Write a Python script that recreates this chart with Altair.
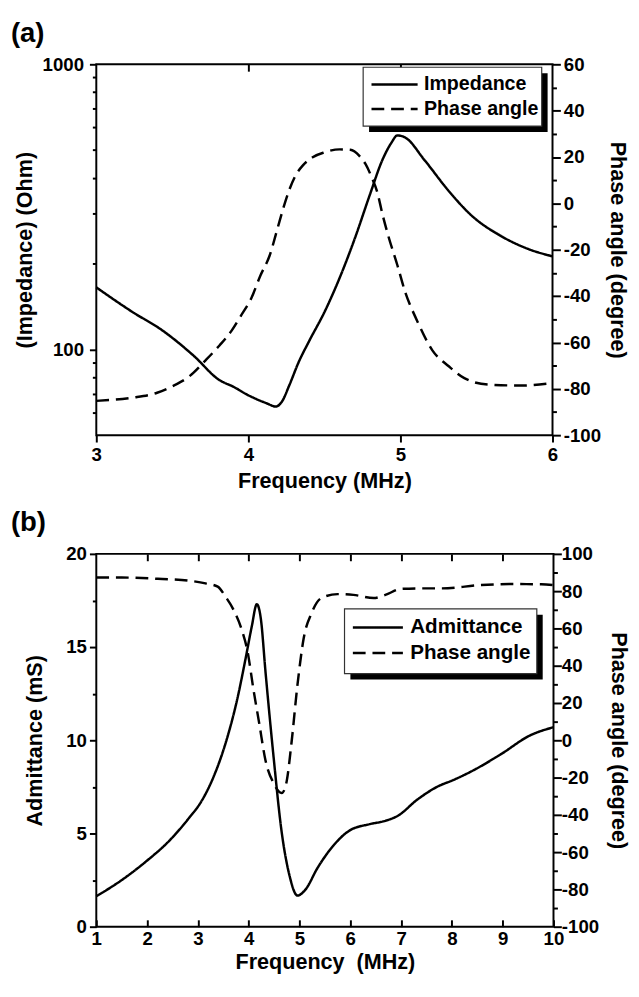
import altair as alt
import pandas as pd

FONT = "Liberation Sans"

# ---------------- panel (a): impedance / phase vs frequency ----------------
imp_freq = [3.0, 3.24, 3.43, 3.64, 3.81, 3.9, 4.0, 4.12, 4.18, 4.22, 4.27, 4.33,
            4.4, 4.5, 4.6, 4.7, 4.8, 4.88, 4.94, 4.98, 5.03, 5.16, 5.32, 5.47, 5.66,
            5.84, 6.0]
imp_ohm = [165, 135, 117, 95, 78, 74, 69, 64.7, 63, 65.5, 75, 90,
           107, 135, 178, 245, 350, 460, 530, 563, 554, 460, 358, 294, 250,
           225, 212]

pha_freq = [3.0, 3.24, 3.4, 3.5, 3.61, 3.72, 3.81, 3.89, 3.95, 4.02, 4.08, 4.14,
            4.19, 4.23, 4.27, 4.31, 4.36, 4.42, 4.5, 4.6, 4.67, 4.73, 4.77, 4.81, 4.85,
            4.88, 4.92, 4.98, 5.03, 5.11, 5.21, 5.32, 5.42, 5.58, 5.79, 6.0]
pha_deg = [-85.2, -83.8, -81.7, -78.9, -74.7, -67.6, -61.3, -54.9, -48.6, -40.8, -31, -22.5,
           -11.2, -2, 6, 12, 16.5, 19.8, 22, 23.3, 23.1, 20.5, 17, 11.4, 4.3,
           -4.2, -14, -26.7, -38, -50.7, -63.4, -70.4, -75.4, -78.2, -78.6, -77.5]

# ---------------- panel (b): admittance / phase vs frequency ----------------
adm_freq = [1.0, 1.5, 1.97, 2.44, 2.83, 3.07, 3.31, 3.54, 3.78, 3.94, 4.06, 4.16,
            4.24, 4.33, 4.49, 4.65, 4.8, 4.96, 5.12, 5.35, 5.67, 5.98, 6.38, 6.69,
            6.93, 7.32, 7.72, 8.03, 8.43, 8.98, 9.53, 10.0]
adm_ms = [1.63, 2.5, 3.48, 4.62, 5.85, 6.73, 8.05, 9.8, 12.27, 14.4, 16.1, 17.3,
          16.5, 13.7, 9.1, 5.06, 2.78, 1.67, 2.0, 3.13, 4.36, 5.15, 5.5, 5.68,
          5.94, 6.82, 7.52, 7.87, 8.4, 9.28, 10.25, 10.7]

phb_freq = [1.0, 1.5, 2.3, 2.83, 3.15, 3.39, 3.54, 3.7, 3.86, 3.98, 4.09, 4.21,
            4.33, 4.49, 4.65, 4.74, 4.84, 4.96, 5.08, 5.24, 5.43, 5.75, 6.06, 6.46,
            6.69, 7.0, 7.4, 7.8, 8.58, 9.13, 9.76, 10.0]
phb_deg = [87.3, 87.3, 86.5, 85.6, 84.2, 82.4, 77.2, 70.1, 59.6, 47.3, 27.9, 8.6,
           -10.7, -23, -28.3, -23, -2, 29.7, 54.3, 68.4, 76.3, 78.4, 78, 76.3,
           78, 81.2, 81.5, 81.5, 83.3, 83.8, 83.7, 83.3]

series_a = ["Impedance", "Phase angle"]
series_b = ["Admittance", "Phase angle"]

# ---------------- tick values / labels ----------------
xa_ticks = [3, 4, 5, 6]
xa_top_ticks = [4, 5]
imp_ticks = [60, 70, 80, 90, 100, 200, 300, 400, 500, 600, 700, 800, 900, 1000]
imp_labels = [100, 1000]
pha_ticks = list(range(-100, 61, 10))
xb_ticks = list(range(1, 11))
xb_inner_ticks = list(range(2, 10))
adm_ticks = [0, 2.5, 5, 7.5, 10, 12.5, 15, 17.5, 20]
phb_ticks = list(range(-100, 101, 10))

# ---------------- layout constants ----------------
W_A, H_A = 465, 378
W_B, H_B = 466, 380
DASH = [13, 7]
SOLID = [1, 0]
SHADOW = 6
LEG_A = dict(x=272, y=3, w=182, h=60, sym=47, font=20, row=25, gap=5, padx=7, pady=5)
LEG_B = dict(x=253, y=56, w=196, h=66, sym=51, font=21, row=26, gap=6, padx=7, pady=6)
TICK = dict(ticks=True, tickColor="black", tickWidth=2, tickOpacity=1)


def cond(test, major, minor):
    return {"condition": {"test": test, "value": major}, "value": minor}


def legend(cfg):
    return alt.Legend(
        orient="none", legendX=cfg["x"] + cfg["padx"], legendY=cfg["y"] + cfg["pady"],
        title=None, symbolType="stroke", symbolSize=cfg["sym"] ** 2, symbolStrokeWidth=2.5,
        symbolStrokeColor="black", labelFont=FONT, labelFontSize=cfg["font"],
        labelFontWeight="bold", labelColor="black", labelOffset=cfg["gap"],
        padding=0, clipHeight=cfg["row"], rowPadding=0,
    )


def box_layers(cfg):
    one = pd.DataFrame({"part": ["legend box"]})
    shadow = alt.Chart(one).mark_rect(color="black").encode(
        x=alt.value(cfg["x"] + SHADOW), x2=alt.value(cfg["x"] + cfg["w"] + SHADOW),
        y=alt.value(cfg["y"] + SHADOW), y2=alt.value(cfg["y"] + cfg["h"] + SHADOW),
    )
    frame = alt.Chart(one).mark_rect(fill="white", stroke="#333333", strokeWidth=1.2).encode(
        x=alt.value(cfg["x"]), x2=alt.value(cfg["x"] + cfg["w"]),
        y=alt.value(cfg["y"]), y2=alt.value(cfg["y"] + cfg["h"]),
    )
    return [shadow, frame]


def panel(df1, df2, xdom, xticks, xtop, xinward, y1, y2, series, leg, title, w, h,
          xtitle, lab_pad, title_pad):
    dash = alt.StrokeDash("series:N", scale=alt.Scale(domain=series, range=[SOLID, DASH]),
                          legend=legend(leg))
    xscale = alt.Scale(domain=xdom, nice=False, zero=False)
    bottom = alt.Axis(orient="bottom", values=xticks, format="d", title=xtitle,
                      tickSize=7, labelPadding=lab_pad, titlePadding=title_pad,
                      labelFlush=False, labelOverlap=False, offset=-7 if xinward else 0, **TICK)
    top = alt.Axis(orient="top", values=xtop, labels=False, title=None,
                   tickSize=7, offset=-7, **TICK)
    l1 = alt.Chart(df1).mark_line(color="black", strokeWidth=2.5, interpolate="monotone").encode(
        x=alt.X("freq:Q", scale=xscale, axis=bottom),
        y=y1, strokeDash=dash)
    l2 = alt.Chart(df2).mark_line(color="black", strokeWidth=2.5, interpolate="monotone").encode(
        x=alt.X("freq:Q", scale=xscale, axis=top),
        y=y2, strokeDash=dash)
    return alt.layer(l1, l2, *box_layers(leg)).resolve_scale(y="independent").resolve_axis(
        x="independent", y="independent").properties(
        width=w, height=h,
        title=alt.TitleParams(title, anchor="start", frame="group", dx=-87, fontSize=28,
                              font=FONT, fontWeight="bold", color="black", offset=8))


df_imp = pd.DataFrame({"freq": imp_freq, "value": imp_ohm, "series": series_a[0]})
df_pha = pd.DataFrame({"freq": pha_freq, "value": pha_deg, "series": series_a[1]})
df_adm = pd.DataFrame({"freq": adm_freq, "value": adm_ms, "series": series_b[0]})
df_phb = pd.DataFrame({"freq": phb_freq, "value": phb_deg, "series": series_b[1]})

lab_test = f"indexof({imp_labels}, datum.value) >= 0"
y_imp = alt.Y("value:Q", scale=alt.Scale(type="log", domain=[50, 1000], nice=False),
              axis=alt.Axis(orient="left", values=imp_ticks, title="(Impedance) (Ohm)",
                            labelExpr=f"{lab_test} ? '' + datum.value : ''",
                            tickSize=cond(lab_test, 7, 4), labelPadding=6, titlePadding=6,
                            labelOverlap=False, **TICK))
y_pha = alt.Y("value:Q", scale=alt.Scale(domain=[-100, 60], nice=False, zero=False),
              axis=alt.Axis(orient="right", values=pha_ticks, title="Phase angle (degree)",
                            labelExpr="datum.value % 20 === 0 ? '' + datum.value : ''",
                            tickSize=cond("datum.value % 20 === 0", 8, 4), labelPadding=3,
                            titlePadding=5, labelOverlap=False, **TICK))
y_adm = alt.Y("value:Q", scale=alt.Scale(domain=[0, 20], nice=False),
              axis=alt.Axis(orient="left", values=adm_ticks, title="Admittance (mS)",
                            labelExpr="datum.value % 5 === 0 ? '' + datum.value : ''",
                            tickSize=cond("datum.value % 5 === 0", 7, 4), labelPadding=3,
                            titlePadding=20, labelOverlap=False, **TICK))
y_phb = alt.Y("value:Q", scale=alt.Scale(domain=[-100, 100], nice=False, zero=False),
              axis=alt.Axis(orient="right", values=phb_ticks, title="Phase angle (degree)",
                            labelExpr="datum.value % 20 === 0 ? '' + datum.value : ''",
                            tickSize=cond("datum.value % 20 === 0", 8, 4), labelPadding=0,
                            titlePadding=8, labelOverlap=False, **TICK))

panel_a = panel(df_imp, df_pha, [3, 6], xa_ticks, xa_top_ticks, False, y_imp, y_pha,
                series_a, LEG_A, "(a)", W_A, H_A, "Frequency (MHz)", 4, 6)
panel_b = panel(df_adm, df_phb, [1, 10], xb_ticks, xb_inner_ticks, True, y_adm, y_phb,
                series_b, LEG_B, "(b)", W_B, H_B, "Frequency\u00a0 (MHz)", 3, 4)

chart = alt.vconcat(panel_a, panel_b, spacing=17).resolve_scale(
    strokeDash="independent").resolve_legend(strokeDash="independent").properties(
    padding={"left": 2, "top": 2, "right": 0, "bottom": 0}
).configure(font=FONT).configure_view(stroke="black", strokeWidth=2).configure_axis(
    labelFont=FONT, labelFontSize=19, labelFontWeight="bold", labelColor="black",
    titleFont=FONT, titleFontSize=22, titleFontWeight="bold", titleColor="black",
    domain=False, grid=False,
)

chart.save("out.html", embed_options={"renderer": "svg", "actions": False})
